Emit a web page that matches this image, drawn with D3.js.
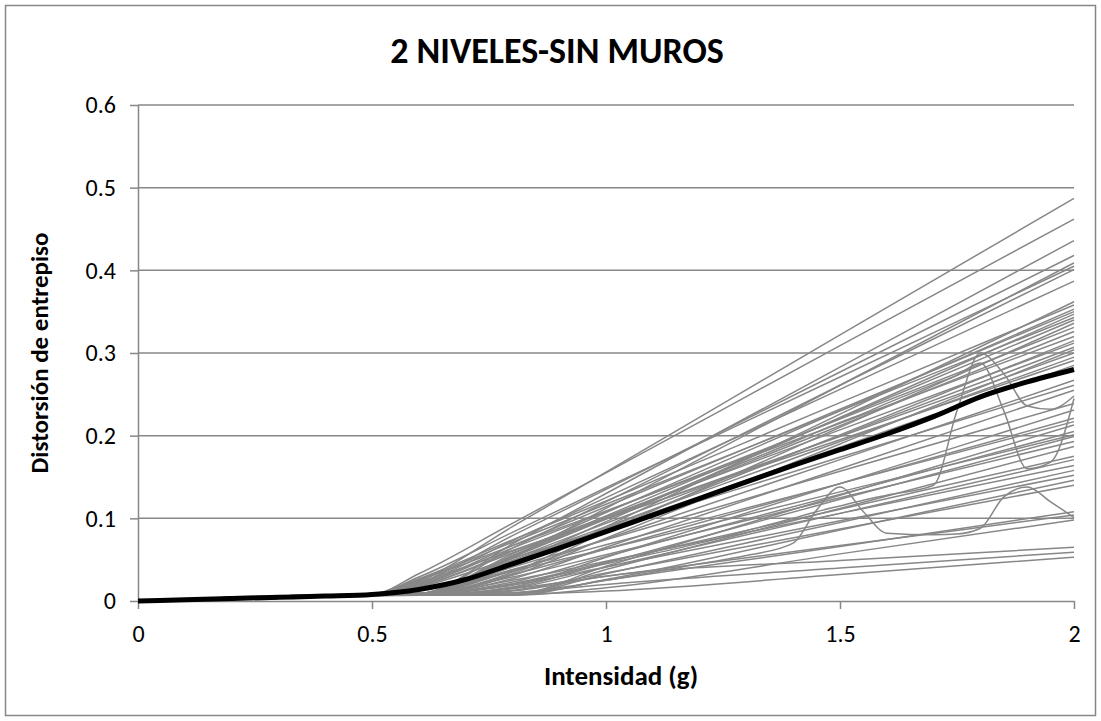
<!DOCTYPE html>
<html>
<head>
<meta charset="utf-8">
<script src="https://cdn.jsdelivr.net/npm/d3@7"></script>
<style>
  html, body { margin: 0; padding: 0; background: #fff; }
  svg { display: block; font-family: Carlito, Calibri, Lato, sans-serif; }
</style>
</head>
<body>
<div id="chart"></div>
<script>
// valores
const titulo = "2 NIVELES-SIN MUROS";
const tituloX = "Intensidad (g)";
const tituloY = "Distorsión de entrepiso";

const ticksX = [0, 0.5, 1, 1.5, 2];
const ticksY = [0, 0.1, 0.2, 0.3, 0.4, 0.5, 0.6];

// registros "normales" (casi rectos despues de 0.5 g)
const intensidad = [0, 0.5, 0.6, 0.8, 1.0, 1.5, 2.0];
const distorsiones = [
  [0, .008, .024, .090, .156, .322, .487],
  [0, .008, .033, .094, .155, .309, .462],
  [0, .008, .009, .069, .130, .283, .436],
  [0, .008, .022, .079, .135, .277, .418],
  [0, .008, .008, .053, .112, .261, .409],
  [0, .008, .029, .083, .137, .271, .405],
  [0, .008, .009, .064, .120, .261, .401],
  [0, .008, .021, .073, .125, .256, .387],
  [0, .008, .008, .035, .090, .226, .362],
  [0, .008, .027, .074, .121, .240, .358],
  [0, .008, .009, .057, .107, .230, .353],
  [0, .008, .020, .067, .114, .232, .350],
  [0, .008, .008, .046, .096, .222, .347],
  [0, .008, .026, .071, .117, .230, .343],
  [0, .008, .009, .055, .103, .221, .340],
  [0, .008, .008, .033, .084, .210, .336],
  [0, .008, .019, .064, .108, .220, .331],
  [0, .008, .009, .053, .099, .212, .326],
  [0, .008, .025, .067, .109, .215, .320],
  [0, .008, .008, .042, .088, .201, .315],
  [0, .008, .018, .060, .102, .207, .312],
  [0, .008, .009, .051, .094, .200, .307],
  [0, .008, .008, .031, .076, .190, .304],
  [0, .008, .018, .058, .099, .199, .300],
  [0, .008, .009, .049, .090, .193, .295],
  [0, .008, .023, .061, .100, .195, .291],
  [0, .008, .009, .048, .087, .186, .285],
  [0, .008, .008, .037, .075, .171, .267],
  [0, .008, .017, .052, .086, .174, .261],
  [0, .008, .008, .027, .065, .160, .255],
  [0, .008, .009, .041, .074, .157, .239],
  [0, .007, .007, .017, .053, .142, .231],
  [0, .008, .008, .032, .063, .142, .221],
  [0, .008, .009, .038, .068, .142, .217],
  [0, .007, .007, .008, .042, .128, .213],
  [0, .008, .008, .023, .054, .129, .205],
  [0, .008, .009, .036, .063, .132, .201],
  [0, .007, .007, .016, .046, .123, .199],
  [0, .008, .008, .029, .056, .125, .193],
  [0, .007, .007, .008, .038, .112, .187],
  [0, .008, .008, .021, .047, .111, .175],
  [0, .007, .007, .015, .041, .106, .171],
  [0, .008, .008, .025, .048, .106, .164],
  [0, .007, .007, .008, .033, .095, .158],
  [0, .008, .008, .019, .041, .097, .152],
  [0, .007, .007, .007, .026, .086, .146],
  [0, .007, .007, .013, .034, .087, .140],
  [0, .007, .007, .008, .025, .066, .108],
  [0, .007, .007, .015, .030, .067, .104],
  [0, .007, .007, .007, .016, .057, .098],
  [0, .007, .007, .012, .030, .049, .065],
  [0, .007, .007, .010, .020, .040, .059],
  [0, .006, .007, .008, .012, .032, .053]
];

// registros con cambios bruscos al final
const intensidadFina = [0, 0.5, 0.6, 0.8, 1.0, 1.2, 1.3, 1.4, 1.45, 1.5, 1.55, 1.6, 1.7, 1.75, 1.8, 1.85, 1.9, 1.95, 2.0];
const distorsionesIrregulares = [
  [0, .007, .007, .010, .025, .045, .055, .070, .110, .138, .108, .082, .080, .081, .088, .126, .138, .120, .101],
  [0, .008, .008, .020, .045, .070, .085, .100, .108, .115, .122, .128, .140, .230, .300, .275, .236, .232, .248],
  [0, .008, .008, .054, .100, .146, .169, .192, .204, .216, .227, .239, .262, .273, .288, .230, .160, .168, .245]
];

// curva media
const intensidadMedia = [0, 0.1, 0.2, 0.3, 0.4, 0.5, 0.6, 0.7, 0.8, 0.9, 1.0, 1.1, 1.2, 1.3, 1.4, 1.5, 1.6, 1.7, 1.8, 1.9, 2.0];
const distorsionMedia = [0, .0015, .003, .0045, .006, .008, .014, .026, .045, .064, .084, .104, .124, .144, .164, .183, .202, .223, .247, .265, .280];

const width = 1101;
const height = 721;
const margin = { top: 105, right: 27, bottom: 120, left: 138 };

const gris = "#878787";

const svg = d3.select("#chart").append("svg")
  .attr("width", width)
  .attr("height", height);

svg.append("rect")
  .attr("x", 5.5).attr("y", 5.5)
  .attr("width", 1090).attr("height", 710)
  .attr("fill", "#fff")
  .attr("stroke", gris)
  .attr("stroke-width", 1.5);

const x = d3.scaleLinear([0, 2], [margin.left, width - margin.right]);
const y = d3.scaleLinear([0, 0.6], [height - margin.bottom, margin.top]);

// rejilla horizontal
svg.append("g")
  .selectAll("line")
  .data(ticksY.filter(d => d > 0))
  .join("line")
    .attr("x1", x(0)).attr("x2", x(2))
    .attr("y1", d => y(d)).attr("y2", d => y(d))
    .attr("stroke", gris)
    .attr("stroke-width", 1.5);

const ejeY = svg.append("g")
  .attr("transform", `translate(${x(0)},0)`)
  .call(d3.axisLeft(y).tickValues(ticksY).tickSizeInner(8).tickSizeOuter(0).tickPadding(14)
    .tickFormat(d => d === 0 ? "0" : d3.format(".1f")(d)));

const ejeX = svg.append("g")
  .attr("transform", `translate(0,${y(0)})`)
  .call(d3.axisBottom(x).tickValues(ticksX).tickSizeInner(8).tickSizeOuter(0).tickPadding(16)
    .tickFormat(d3.format("")));

[ejeY, ejeX].forEach(g => {
  g.selectAll(".domain, line").attr("stroke", gris).attr("stroke-width", 1.5);
  g.selectAll("text")
    .attr("fill", "#000")
    .style("font-size", "24px")
    .style("font-family", "Carlito, Calibri, Lato, sans-serif");
});

const linea = (xs) => d3.line()
  .x((d, i) => x(xs[i]))
  .y(d => y(d))
  .curve(d3.curveMonotoneX);

const grupoLineas = svg.append("g").attr("fill", "none");

grupoLineas.selectAll("path.registro")
  .data(distorsiones)
  .join("path")
    .attr("class", "registro")
    .attr("d", linea(intensidad))
    .attr("stroke", gris)
    .attr("stroke-width", 1.5);

grupoLineas.selectAll("path.irregular")
  .data(distorsionesIrregulares)
  .join("path")
    .attr("class", "irregular")
    .attr("d", linea(intensidadFina))
    .attr("stroke", gris)
    .attr("stroke-width", 1.5);

grupoLineas.append("path")
  .datum(distorsionMedia)
  .attr("d", linea(intensidadMedia))
  .attr("stroke", "#000")
  .attr("stroke-width", 5);

// textos
svg.append("text")
  .attr("x", 557)
  .attr("y", 63)
  .attr("text-anchor", "middle")
  .attr("font-size", 36)
  .attr("font-weight", "bold")
  .text(titulo);

svg.append("text")
  .attr("x", 621)
  .attr("y", 685)
  .attr("text-anchor", "middle")
  .attr("font-size", 27)
  .attr("font-weight", "bold")
  .text(tituloX);

svg.append("text")
  .attr("transform", `translate(48,${(y(0) + y(0.6)) / 2}) rotate(-90)`)
  .attr("text-anchor", "middle")
  .attr("font-size", 25)
  .attr("font-weight", "bold")
  .text(tituloY);
</script>
</body>
</html>
